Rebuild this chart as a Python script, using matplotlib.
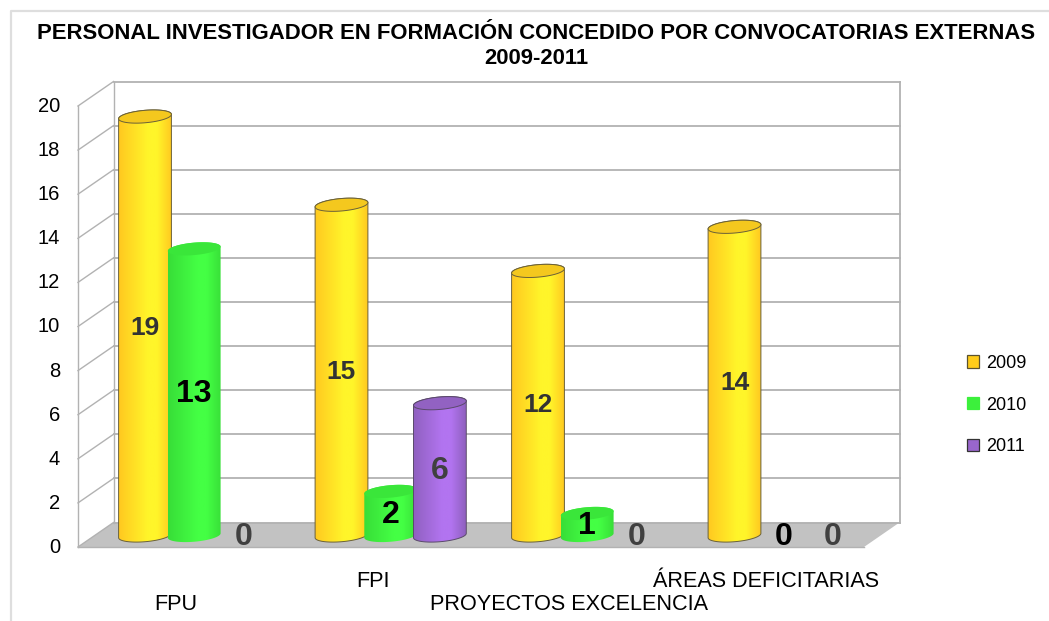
"""Personal investigador en formacion: 3D-look cylinder bars on a flat matplotlib axes."""

import matplotlib
matplotlib.use('Agg')
import matplotlib.pyplot as plt
import numpy as np
from matplotlib.colors import LinearSegmentedColormap
from matplotlib.lines import Line2D
from matplotlib.patches import Patch, Polygon
from matplotlib.transforms import ScaledTranslation

plt.rcParams['font.family'] = ['Liberation Sans', 'DejaVu Sans']

CATEGORIES = ['FPU', 'FPI', 'PROYECTOS EXCELENCIA', 'ÁREAS DEFICITARIAS']
YEARS = ['2009', '2010', '2011']
VALUES_2009 = [19, 15, 12, 14]
VALUES_2010 = [13, 2, 1, 0]
VALUES_2011 = [0, 6, 0, 0]
Y_TICKS = list(range(0, 21, 2))

# Front plane of the fake 3D box, in figure pixels
FIG_W, FIG_H = 1049, 621
LEFT_PX, RIGHT_PX, BOTTOM_PX = 78, 864, 547
PX_PER_CAT = (RIGHT_PX - LEFT_PX) / 4
PX_PER_UNIT = 22.05
DEPTH_X = 35.5 / PX_PER_CAT
DEPTH_Y = 24.5 / PX_PER_UNIT

# Cylinder layout relative to the front plane
FIRST_BAR = (145 - LEFT_PX) / PX_PER_CAT
BAR_STEP = 49.2 / PX_PER_CAT
BASE_Y = (BOTTOM_PX - 535.5) / PX_PER_UNIT
ELL_A, ELL_B, ELL_TILT = 26.5, 6.2, np.radians(5)

GRID = '#B2B2B2'
STYLES = [
    dict(edge='#FFC920', mid='#FFF52A', top='#F4C81E', line='#6A6038',
         text='#333333', size=19),
    dict(edge='#38DE38', mid='#44FF44', top='#3AE63A', line='none',
         text='black', size=23),
    dict(edge='#8F60BF', mid='#B274F0', top='#9262C2', line='#5A4A6A',
         text='#404040', size=23),
]
LEGEND_COLORS = [('#FFCC1A', '#5A5230'), ('#3CF03C', '#3CF03C'), ('#9966CC', '#333333')]


def ellipse(cx, cy, start=0.0, stop=2 * np.pi, n=80):
    """Tilted ellipse outline around (cx, cy) in data units."""
    t = np.linspace(start, stop, n)
    x = ELL_A * np.cos(t)
    y = ELL_B * np.sin(t)
    xr = x * np.cos(ELL_TILT) - y * np.sin(ELL_TILT)
    yr = x * np.sin(ELL_TILT) + y * np.cos(ELL_TILT)
    return np.column_stack([cx + xr / PX_PER_CAT, cy + yr / PX_PER_UNIT])


def draw_box(ax):
    back_l, back_r = DEPTH_X, 4 + DEPTH_X
    floor = [(0, 0), (DEPTH_X, DEPTH_Y), (back_r, DEPTH_Y), (4, 0)]
    ax.add_patch(Polygon(floor, closed=True, facecolor='#C2C2C2', edgecolor='none',
                         zorder=1, clip_on=False))
    ax.plot([0, 4], [0, 0], color=GRID, lw=1.0, zorder=1.5, clip_on=False)
    for v in Y_TICKS:
        ax.plot([back_l, back_r], [v + DEPTH_Y, v + DEPTH_Y], color=GRID, lw=1.3,
                zorder=1.2, clip_on=False)
        ax.plot([0, back_l], [v, v + DEPTH_Y], color=GRID, lw=1.0, zorder=1.2, clip_on=False)
    ax.plot([0, 0], [0, 20], color=GRID, lw=1.0, zorder=1.2, clip_on=False)
    ax.plot([back_l, back_l], [DEPTH_Y, 20 + DEPTH_Y], color=GRID, lw=1.0, zorder=1.2,
            clip_on=False)
    ax.plot([back_r, back_r], [DEPTH_Y, 20 + DEPTH_Y], color=GRID, lw=1.3, zorder=1.2,
            clip_on=False)


def draw_cylinder(ax, cx, value, style, z):
    top_y = BASE_Y + value
    half = ELL_A / PX_PER_CAT
    lower = ellipse(cx, BASE_Y, np.pi, 2 * np.pi)
    upper = ellipse(cx, top_y, 0, np.pi)
    outline = np.vstack([lower, upper])
    ax.add_patch(Polygon(outline, closed=True, facecolor='none', edgecolor=style['line'],
                         linewidth=0.7, zorder=z + 0.2, clip_on=False))

    cmap = LinearSegmentedColormap.from_list(
        'cyl', [(0, style['edge']), (0.55, style['mid']), (0.72, style['mid']),
                (1, style['edge'])])
    img = ax.imshow(np.linspace(0, 1, 128)[None, :], cmap=cmap, aspect='auto',
                    extent=(cx - half, cx + half, BASE_Y - 0.5, top_y + 0.5), zorder=z)
    img.set_clip_path(Polygon(outline, closed=True, transform=ax.transData))

    ax.add_patch(Polygon(ellipse(cx, top_y), closed=True, facecolor=style['top'],
                         edgecolor=style['line'], linewidth=0.7, zorder=z + 0.3,
                         clip_on=False))


def main():
    fig = plt.figure(figsize=(FIG_W / 100, FIG_H / 100), dpi=100, facecolor='white')

    # Pale chart frame, cut off by the screenshot on the right and bottom
    fig.add_artist(Line2D([10.5 / FIG_W, 10.5 / FIG_W, 1], [0, 1 - 10.5 / FIG_H, 1 - 10.5 / FIG_H],
                          color='#DEDEDE', lw=1.6))

    ax = fig.add_axes([LEFT_PX / FIG_W, (FIG_H - BOTTOM_PX) / FIG_H,
                       (RIGHT_PX - LEFT_PX) / FIG_W, 20 * PX_PER_UNIT / FIG_H])
    ax.patch.set_alpha(0)
    for spine in ax.spines.values():
        spine.set_visible(False)

    draw_box(ax)

    series = [VALUES_2009, VALUES_2010, VALUES_2011]
    for j, values in enumerate(series):
        style = STYLES[j]
        for i, value in enumerate(values):
            cx = FIRST_BAR + i + j * BAR_STEP
            if value > 0:
                draw_cylinder(ax, cx, value, style, z=3 + i + j * 0.5)
            ax.text(cx, BASE_Y + value / 2 - 0.07, str(value), ha='center', va='center',
                    fontsize=style['size'], fontweight='bold', color=style['text'], zorder=20)

    ax.set_xlim(0, 4)
    ax.set_ylim(0, 20)
    ax.set_xticks(np.arange(len(CATEGORIES)) + 0.5)
    ax.set_xticklabels(CATEGORIES, fontsize=15.6, color='black')
    ax.set_yticks(Y_TICKS)
    ax.tick_params(axis='y', length=0, pad=13, labelsize=14.5)
    ax.tick_params(axis='x', length=0, pad=17)

    # Excel staggers the long category names on two levels
    for tick in ax.xaxis.get_major_ticks()[::2]:
        tick.set_pad(33.5)

    lift = ScaledTranslation(0, 1.5 / 100, fig.dpi_scale_trans)
    for label in ax.get_yticklabels():
        label.set_transform(label.get_transform() + lift)

    handles = [Patch(facecolor=fc, edgecolor=ec, linewidth=0.9, label=year)
               for year, (fc, ec) in zip(YEARS, LEGEND_COLORS)]
    fig.legend(handles=handles, loc='center left', frameon=False, fontsize=13,
               bbox_to_anchor=(951 / FIG_W, 1 - 405 / FIG_H), handlelength=0.66,
               handleheight=0.66, handletextpad=0.36, labelspacing=1.37)

    fig.text(536 / FIG_W, 1 - 46 / FIG_H,
             'PERSONAL INVESTIGADOR EN FORMACIÓN CONCEDIDO POR CONVOCATORIAS EXTERNAS\n2009-2011',
             ha='center', va='center', fontsize=15.9, fontweight='bold', linespacing=1.25)

    fig.savefig('out.png', dpi=100)


if __name__ == '__main__':
    main()
